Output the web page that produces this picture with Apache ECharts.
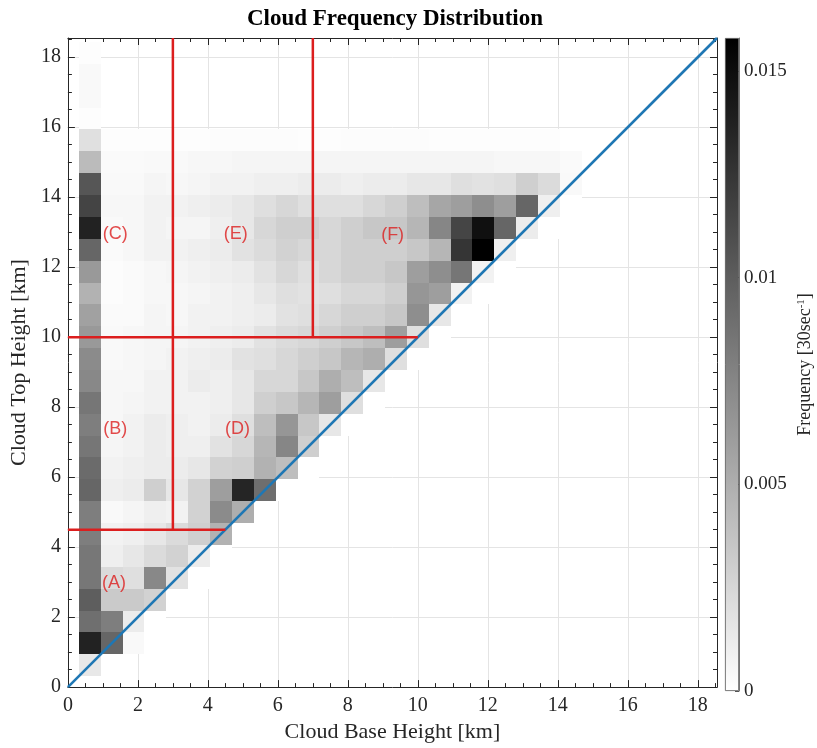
<!DOCTYPE html>
<html><head><meta charset="utf-8">
<script src="https://cdn.jsdelivr.net/npm/echarts@6/dist/echarts.min.js"></script>
<style>html,body{margin:0;padding:0;background:#fff}#c{width:817px;height:748px}</style>
</head><body><div id="c"></div>
<script>
const binWidth = 0.625;
const axisMax = 18.55;
const colorMax = 0.0158;
const binCenters = [0.625,1.25,1.875,2.5,3.125,3.75,4.375,5,5.625,6.25,6.875,7.5,8.125,8.75,9.375,10,10.625,11.25,11.875,12.5,13.125,13.75,14.375,15,15.625,16.25,16.875,17.5,18.125];
// rows: cloud-top bins (bottom -> top); columns: cloud-base bins (left -> right)
const freq = [
 [0.0014,0],
 [0.0137,0.0095,0.0004],
 [0.0089,0.0080,0.0012,0],
 [0.0100,0.0033,0.0033,0.0028,0],
 [0.0084,0.0022,0.0020,0.0074,0.0018,0],
 [0.0084,0.0010,0.0015,0.0022,0.0028,0.0012,0],
 [0.0080,0.0008,0.0010,0.0015,0.0022,0.0030,0.0048,0],
 [0.0080,0.0004,0.0006,0.0010,0.0008,0.0028,0.0072,0.0050,0],
 [0.0095,0.0010,0.0012,0.0030,0.0015,0.0028,0.0060,0.0135,0.0090,0],
 [0.0092,0.0008,0.0010,0.0012,0.0012,0.0015,0.0028,0.0030,0.0048,0.0040,0],
 [0.0085,0.0006,0.0008,0.0012,0.0010,0.0010,0.0018,0.0025,0.0045,0.0075,0.0030,0],
 [0.0080,0.0005,0.0008,0.0012,0.0010,0.0008,0.0012,0.0020,0.0040,0.0065,0.0035,0.0015,0],
 [0.0085,0.0005,0.0006,0.0008,0.0008,0.0008,0.0010,0.0015,0.0030,0.0035,0.0045,0.0060,0.0020,0],
 [0.0074,0.0005,0.0005,0.0008,0.0008,0.0012,0.0010,0.0015,0.0025,0.0025,0.0035,0.0050,0.0040,0.0015,0],
 [0.0072,0.0004,0.0005,0.0006,0.0008,0.0010,0.0012,0.0018,0.0020,0.0025,0.0030,0.0035,0.0045,0.0050,0.0020,0],
 [0.0063,0.0004,0.0005,0.0006,0.0006,0.0008,0.0010,0.0012,0.0018,0.0022,0.0025,0.0030,0.0035,0.0040,0.0060,0.0020,0],
 [0.0058,0.0003,0.0003,0.0006,0.0005,0.0008,0.0008,0.0010,0.0012,0.0018,0.0020,0.0025,0.0030,0.0030,0.0035,0.0070,0.0015,0],
 [0.0048,0.0002,0.0003,0.0005,0.0005,0.0006,0.0008,0.0010,0.0015,0.0020,0.0018,0.0020,0.0025,0.0025,0.0030,0.0065,0.0060,0.0008,0],
 [0.0063,0.0002,0.0003,0.0005,0.0006,0.0008,0.0010,0.0012,0.0018,0.0025,0.0020,0.0025,0.0030,0.0030,0.0035,0.0060,0.0070,0.0085,0.0008,0],
 [0.0095,0.0003,0.0005,0.0008,0.0008,0.0010,0.0012,0.0018,0.0022,0.0028,0.0025,0.0025,0.0030,0.0030,0.0030,0.0035,0.0045,0.0125,0.0158,0.0010,0],
 [0.0137,0.0004,0.0005,0.0008,0.0006,0.0006,0.0010,0.0015,0.0025,0.0030,0.0030,0.0025,0.0030,0.0035,0.0035,0.0045,0.0075,0.0115,0.0148,0.0095,0.0012,0],
 [0.0116,0.0005,0.0005,0.0008,0.0008,0.0010,0.0012,0.0015,0.0020,0.0025,0.0020,0.0020,0.0020,0.0025,0.0030,0.0040,0.0055,0.0060,0.0070,0.0060,0.0095,0.0010,0],
 [0.0105,0.0004,0.0004,0.0006,0.0005,0.0006,0.0008,0.0008,0.0010,0.0010,0.0012,0.0012,0.0010,0.0012,0.0012,0.0015,0.0015,0.0020,0.0018,0.0020,0.0030,0.0022,0.0004],
 [0.0042,0.0003,0.0003,0.0004,0.0004,0.0005,0.0005,0.0006,0.0006,0.0006,0.0006,0.0006,0.0006,0.0006,0.0006,0.0006,0.0006,0.0006,0.0006,0.0005,0.0005,0.0005,0.0003],
 [0.0019,0.0001,0.0001,0.0001,0.0001,0.0001,0.0002,0.0002,0.0002,0.0002,0.0001,0.0001,0.0002,0.0002,0.0002,0.0002,0.0001,0.0001,0.0001,0.0001,0.0001,0.0001],
 [0.0001],
 [0.0004],
 [0.0004],
 [0.0001]
];
const xTickLabels = [0,2,4,6,8,10,12,14,16,18];
const colorTicks = [0,0.005,0.01,0.015];
const regionNames = ['(A)','(B)','(C)','(D)','(E)','(F)'];
const regionX = [1.32,1.35,1.35,4.85,4.8,9.28];
const regionY = [2.96,7.37,12.95,7.37,12.95,12.93];
const dividers = [
  [[0,4.5],[4.5,4.5]],
  [[3,4.5],[3,18.55]],
  [[0,10],[10,10]],
  [[7,10],[7,18.55]]
];
const diagonal = [[0,0],[18.55,18.55]];

const cells = [];
freq.forEach((row, j) => row.forEach((v, i) => {
  if (v !== null) cells.push([binCenters[i], binCenters[j], v]);
}));

const serif = 'Liberation Serif, Times New Roman, serif';
const dark = '#262626';
function valAxis(pos, main, gridIndex) {
  return {
    type: 'value', min: 0, max: axisMax, interval: 2, position: pos, gridIndex: gridIndex || 0,
    axisLine: {show: true, onZero: false, lineStyle: {color: dark, width: 1}},
    axisTick: {show: true, inside: true, length: 7, lineStyle: {color: dark, width: 1}},
    minorTick: {show: true, splitNumber: 4, length: 4, lineStyle: {color: dark, width: 1}},
    splitLine: {show: main, lineStyle: {color: '#e4e4e4', width: 1}},
    axisLabel: {show: main, showMaxLabel: false, fontFamily: serif, fontSize: 20, color: dark, margin: 9,
      formatter: v => (xTickLabels.indexOf(v) >= 0 ? String(v) : '')}
  };
}

const chart = echarts.init(document.getElementById('c'), null, {renderer: 'canvas'});
const xa0 = valAxis('bottom', true); xa0.name = 'Cloud Base Height [km]'; xa0.nameLocation = 'middle'; xa0.nameGap = 32;
xa0.nameTextStyle = {fontFamily: serif, fontSize: 22, color: dark};
const ya0 = valAxis('left', true); ya0.name = 'Cloud Top Height [km]'; ya0.nameLocation = 'middle'; ya0.nameGap = 30;
ya0.nameTextStyle = {fontFamily: serif, fontSize: 22, color: dark}; ya0.axisLabel.margin = 7;

chart.setOption({
  animation: false,
  backgroundColor: '#ffffff',
  title: {text: 'Cloud Frequency Distribution', left: 390, top: 3, textAlign: 'center',
    textStyle: {fontFamily: serif, fontWeight: 'bold', fontSize: 23, color: '#000'}},
  grid: [
    {left: 64, top: 38, width: 653, height: 653, containLabel: false},
    {left: 725, top: 38, width: 14, height: 653, containLabel: false}
  ],
  xAxis: [xa0, valAxis('top', false),
    {type: 'category', gridIndex: 1, data: ['c'], show: false}],
  yAxis: [ya0, valAxis('right', false),
    {type: 'value', gridIndex: 1, min: 0, max: colorMax, interval: 0.005, position: 'right',
     axisLine: {show: true, lineStyle: {color: '#555', width: 0.8}},
     axisTick: {show: true, inside: true, length: 4, lineStyle: {color: '#555'}},
     splitLine: {show: false},
     axisLabel: {showMaxLabel: false, fontFamily: serif, fontSize: 19, color: dark, margin: 5,
       formatter: v => (colorTicks.indexOf(v) >= 0 ? String(v) : '')},
     name: 'Frequency [30sec{s|-1}]', nameLocation: 'middle', nameRotate: 90, nameGap: 57,
     nameTextStyle: {fontFamily: serif, fontSize: 18, color: dark,
       rich: {s: {fontFamily: serif, fontSize: 11, color: dark, verticalAlign: 'top', padding: [0,0,8,0]}}}}
  ],
  visualMap: {show: false, type: 'continuous', min: 0, max: colorMax, dimension: 2, seriesIndex: 0,
    inRange: {color: ['#ffffff', '#000000']}},
  series: [
    {type: 'custom', xAxisIndex: 0, yAxisIndex: 0, data: cells, z: 1,
     renderItem: function (params, api) {
       const x = api.value(0), y = api.value(1);
       const p0 = api.coord([x - binWidth / 2, y + binWidth / 2]);
       const p1 = api.coord([x + binWidth / 2, y - binWidth / 2]);
       const x0 = Math.round(p0[0]), y0 = Math.round(p0[1]);
       const x1 = Math.round(p1[0]), y1 = Math.round(p1[1]);
       return {type: 'rect', shape: {x: x0, y: y0, width: x1 - x0, height: y1 - y0},
         style: {fill: api.visual('color'), stroke: null}};
     }},
    {type: 'line', xAxisIndex: 0, yAxisIndex: 0, data: diagonal, symbol: 'none', z: 5,
     lineStyle: {color: '#1f77b4', width: 2.6}},
    ...dividers.map(seg => ({type: 'line', xAxisIndex: 0, yAxisIndex: 0, data: seg, symbol: 'none', z: 6,
     lineStyle: {color: '#dc1e1e', width: 2.5}})),
    {type: 'scatter', xAxisIndex: 0, yAxisIndex: 0, symbolSize: 1, z: 7,
     itemStyle: {color: 'rgba(0,0,0,0)'},
     data: regionNames.map((n, k) => ({name: n, value: [regionX[k], regionY[k]]})),
     label: {show: true, position: 'inside', formatter: p => p.name, color: '#dc1e1e',
       fontFamily: 'Liberation Sans, Arial, sans-serif', fontSize: 18}},
    {type: 'bar', xAxisIndex: 2, yAxisIndex: 2, data: [colorMax], barWidth: '100%', z: 2,
     itemStyle: {borderColor: '#555', borderWidth: 0.8,
       color: {type: 'linear', x: 0, y: 0, x2: 0, y2: 1, colorStops: [{offset: 0, color: '#000000'}, {offset: 1, color: '#ffffff'}]}}}
  ]
});
</script></body></html>
